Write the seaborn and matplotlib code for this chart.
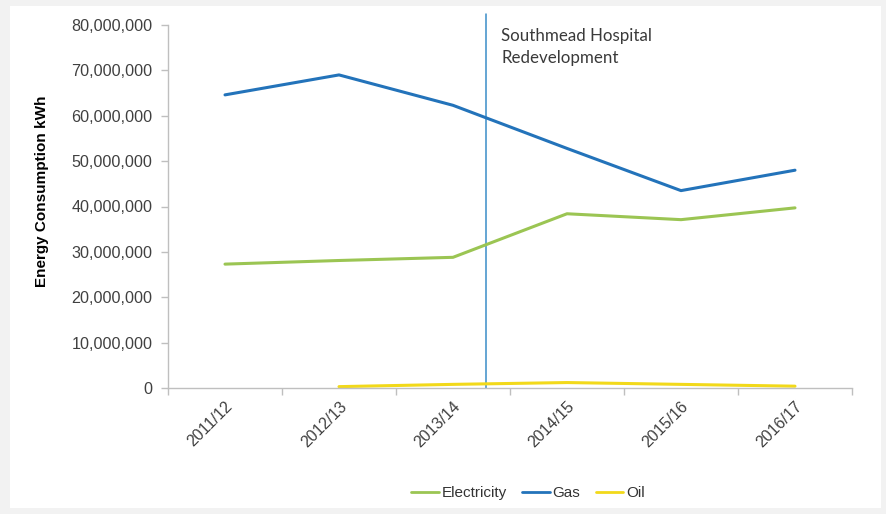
import matplotlib
matplotlib.use("Agg")
import matplotlib.pyplot as plt
import matplotlib.patches as mpatches
import numpy as np
import pandas as pd
import seaborn as sns

# Annual energy consumption by source (kWh)
years = ["2011/12", "2012/13", "2013/14", "2014/15", "2015/16", "2016/17"]
electricity = [27_300_000, 28_100_000, 28_800_000, 38_400_000, 37_100_000, 39_700_000]
gas = [64_600_000, 69_000_000, 62_300_000, 52_800_000, 43_500_000, 48_000_000]
oil = [np.nan, 300_000, 800_000, 1_200_000, 800_000, 400_000]

series_names = ["Electricity", "Gas", "Oil"]
series_colors = ["#9bc553", "#2373ba", "#f2d91a"]

event_label = "Southmead Hospital\nRedevelopment"
event_position = 2.29  # between 2013/14 and 2014/15

y_ticks = list(range(0, 80_000_001, 10_000_000))

df = pd.DataFrame({
    "idx": list(range(len(years))) * 3,
    "kWh": electricity + gas + oil,
    "Source": [s for s in series_names for _ in years],
})

sns.set_theme(style="white")
plt.rcParams["font.family"] = ["Liberation Sans", "DejaVu Sans"]

fig = plt.figure(figsize=(8.86, 5.14), dpi=100, facecolor="#f2f2f2")
fig.patches.append(mpatches.Rectangle((10 / 886, 6 / 514), 871 / 886, 502 / 514,
                                      transform=fig.transFigure, facecolor="white",
                                      edgecolor="none", zorder=-10))
ax = fig.add_axes([168 / 886, 126 / 514, 684 / 886, 363 / 514])
ax.set_facecolor("white")
ax.set_zorder(2)

sns.lineplot(data=df, x="idx", y="kWh", hue="Source", hue_order=series_names,
             palette=series_colors, linewidth=2.2, ax=ax, legend=False,
             estimator=None, sort=False)

ax.axvline(event_position, color="#3a8dc8", linewidth=1.1, ymin=0, ymax=1.03,
           clip_on=False, zorder=1)
ax.text(event_position + 0.135, 79_400_000, event_label, fontsize=12.2,
        family=["Lato", "DejaVu Sans"], color="#3a3a3a", va="top", ha="left",
        linespacing=1.45)

ax.set_xlim(-0.5, len(years) - 0.5)
ax.set_ylim(0, 80_000_000)
ax.set_yticks(y_ticks)
ax.set_yticklabels([f"{v:,}" for v in y_ticks], fontsize=11.6, color="#404040")

ax.set_xticks(np.arange(-0.5, len(years)), minor=False)
ax.set_xticklabels([])
ax.set_xticks(np.arange(len(years)), minor=True)
ax.set_xticklabels(years, minor=True, rotation=45, ha="right",
                   rotation_mode="anchor", fontsize=11.5, color="#404040")
ax.tick_params(axis="x", which="minor", length=0, pad=8)
ax.tick_params(axis="x", which="major", length=5, color="#bfbfbf", width=1,
               direction="out", bottom=True)
ax.tick_params(axis="y", length=5, color="#bfbfbf", width=1, direction="out",
               left=True, pad=6)

for side in ["top", "right"]:
    ax.spines[side].set_visible(False)
for side in ["left", "bottom"]:
    ax.spines[side].set_color("#bfbfbf")
    ax.spines[side].set_linewidth(1)

ax.set_xlabel("")
ax.set_ylabel("Energy Consumption kWh", fontsize=11, fontweight="bold",
              color="black")
ax.yaxis.set_label_coords(-0.174, 0.543)

handles = [plt.Line2D([], [], color=c, linewidth=2.0) for c in series_colors]
fig.legend(handles, series_names, loc="center", bbox_to_anchor=(528 / 886, 21 / 514),
           ncol=3, frameon=False, fontsize=11, handlelength=1.8,
           handletextpad=0.2, columnspacing=1.0, labelcolor="#333333")

fig.savefig("out.png", dpi=100, facecolor=fig.get_facecolor())
